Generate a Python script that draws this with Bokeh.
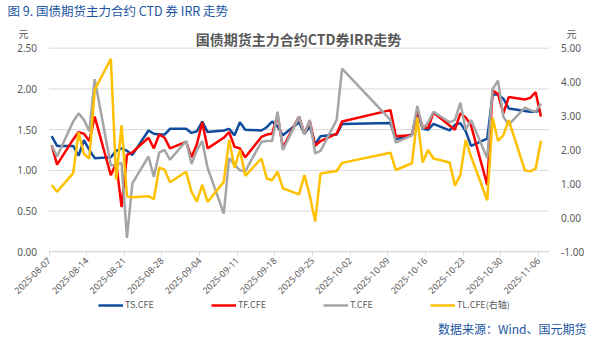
import math
import pandas as pd
from bokeh.plotting import figure
from bokeh.models import (Range1d, LinearAxis, FixedTicker, PrintfTickFormatter,
                          DatetimeTickFormatter, Label, Legend, LegendItem, ColumnDataSource)
from bokeh.embed import file_html
from bokeh.resources import INLINE

# ---------------- data ----------------
dates = ["2025-08-07", "2025-08-08", "2025-08-11", "2025-08-12", "2025-08-13", "2025-08-14", "2025-08-15",
         "2025-08-18", "2025-08-19", "2025-08-20", "2025-08-21", "2025-08-22",
         "2025-08-25", "2025-08-26", "2025-08-27", "2025-08-28", "2025-08-29",
         "2025-09-01", "2025-09-02", "2025-09-03", "2025-09-04", "2025-09-05",
         "2025-09-08", "2025-09-09", "2025-09-10", "2025-09-11", "2025-09-12",
         "2025-09-15", "2025-09-16", "2025-09-17", "2025-09-18", "2025-09-19",
         "2025-09-22", "2025-09-23", "2025-09-24", "2025-09-25", "2025-09-26",
         "2025-09-29", "2025-09-30", "2025-10-09", "2025-10-10",
         "2025-10-13", "2025-10-14", "2025-10-15", "2025-10-16", "2025-10-17",
         "2025-10-20", "2025-10-21", "2025-10-22", "2025-10-23", "2025-10-24",
         "2025-10-27", "2025-10-28", "2025-10-29", "2025-10-30", "2025-10-31",
         "2025-11-03", "2025-11-04", "2025-11-05", "2025-11-06"]

ts_cfe = [1.42, 1.30, 1.30, 1.18, 1.37, 1.25, 1.15,
          1.16, 1.24, 1.27, 1.24, 1.19,
          1.49, 1.45, 1.44, 1.44, 1.51,
          1.51, 1.46, 1.48, 1.60, 1.47,
          1.49, 1.51, 1.43, 1.59, 1.50,
          1.49, 1.53, 1.60, 1.54, 1.43,
          1.59, 1.45, 1.54, 1.32, 1.42,
          1.44, 1.57, 1.58, 1.38,
          1.44, 1.72, 1.51, 1.50, 1.57,
          1.49, 1.56, 1.58, 1.48, 1.30,
          1.39, 1.93, 1.93, 1.88, 1.76,
          1.73, 1.72, 1.72, 1.74]

tf_cfe = [1.31, 1.07, 1.38, 1.47, 1.45, 1.36, 1.66,
          0.94, 1.09, 0.55, 1.19, 1.22,
          1.40, 1.27, 1.44, 1.40, 1.27,
          1.35, 1.16, 1.32, 1.59, 1.27,
          1.40, 1.47, 1.29, 1.27, 1.16,
          1.41, 1.44, 1.45, 1.68, 1.28,
          1.66, 1.45, 1.61, 1.30, 1.36,
          1.45, 1.60, 1.74, 1.42,
          1.43, 1.74, 1.53, 1.52, 1.71,
          1.55, 1.50, 1.70, 1.65, 1.55,
          0.82, 1.98, 1.94, 1.70, 1.90,
          1.87, 1.89, 1.96, 1.66]

t_cfe = [1.31, 1.17, 1.60, 1.70, 1.62, 1.48, 2.12,
         1.06, 1.07, 1.09, 0.17, 0.84,
         1.17, 0.92, 1.22, 1.25, 1.13,
         1.36, 1.08, 1.25, 1.36, 1.03,
         0.47, 1.15, 1.07, 1.00, 0.99,
         1.35, 1.36, 1.36, 1.72, 1.25,
         1.66, 1.44, 1.62, 1.21, 1.24,
         1.62, 2.25, 1.62, 1.34,
         1.43, 1.79, 1.51, 1.59, 1.72,
         1.59, 1.62, 1.83, 1.50, 1.62,
         1.15, 2.00, 2.10, 1.66, 1.56,
         1.77, 1.74, 1.72, 1.82]

tl_cfe = [0.97, 0.77, 1.32, 2.52, 1.88, 1.75, 3.77,
          4.69, 1.13, 2.73, 0.64, 0.61,
          0.64, 0.55, 1.48, 1.42, 1.05,
          1.36, 0.77, 0.48, 0.97, 0.47,
          1.06, 2.30, 1.47, 2.00, 1.24,
          1.75, 1.16, 1.11, 1.36, 0.87,
          0.69, 1.26, 0.66, -0.11, 1.31,
          1.38, 1.62, 1.92, 1.41,
          1.61, 2.95, 1.63, 2.00, 1.75,
          1.63, 0.95, 1.26, 2.30, 1.80,
          0.52, 2.95, 2.27, 2.44, 2.88,
          1.40, 1.37, 1.45, 2.27]

series_names = ["TS.CFE", "TF.CFE", "T.CFE", "TL.CFE(右轴)"]
left_ticks = [0.0, 0.5, 1.0, 1.5, 2.0, 2.5]
right_ticks = [-1.0, 0.0, 1.0, 2.0, 3.0, 4.0, 5.0]
tick_dates = ["2025-08-07", "2025-08-14", "2025-08-21", "2025-08-28", "2025-09-04", "2025-09-11",
              "2025-09-18", "2025-09-25", "2025-10-02", "2025-10-09", "2025-10-16", "2025-10-23",
              "2025-10-30", "2025-11-06"]
axis_start, axis_end = "2025-08-07", "2025-11-08"
unit_label = "元"
header_text = "图 9. 国债期货主力合约 CTD 券 IRR 走势"
chart_title = "国债期货主力合约CTD券IRR走势"
source_text = "数据来源：Wind、国元期货"

# ---------------- layout geometry (pixels) ----------------
W, H = 593, 338
GRAY = "#595959"
BLUE_TXT = "#2155A3"
CJK = "Noto Sans CJK SC"

PX_LEFT = 48.5          # x pixel of axis start
DAY_PX = 5.377          # pixels per day
PY_ZERO, PY_TOP = 251.3, 47.7   # y pixel of 0.00 / 2.50 (left) and -1.00 / 5.00 (right)

t0 = pd.Timestamp(axis_start)
t1 = pd.Timestamp(axis_end)
x_lo = t0 - pd.Timedelta(days=PX_LEFT / DAY_PX)
x_hi = t0 + pd.Timedelta(days=(W - PX_LEFT) / DAY_PX)

sL = (PY_ZERO - PY_TOP) / 2.5
sR = (PY_ZERO - PY_TOP) / 6.0
yl_lo, yl_hi = -(H - PY_ZERO) / sL, PY_ZERO / sL
yr_lo, yr_hi = -1 - (H - PY_ZERO) / sR, -1 + PY_ZERO / sR


def ms(t):
    return t.value / 1e6


def dx(px):  # canvas pixel -> data x (ms)
    return ms(x_lo) + px / W * (ms(x_hi) - ms(x_lo))


def dy(py):  # canvas pixel -> left data y
    return yl_hi - py / H * (yl_hi - yl_lo)


x = pd.to_datetime(dates) + pd.Timedelta(hours=12)
src = ColumnDataSource(dict(x=x, ts=ts_cfe, tf=tf_cfe, t=t_cfe, tl=tl_cfe))

p = figure(width=W, height=H, x_axis_type="datetime", output_backend="svg", toolbar_location=None,
           x_range=Range1d(x_lo, x_hi), y_range=Range1d(yl_lo, yl_hi),
           min_border=0, min_border_left=0, min_border_right=0,
           min_border_top=0, min_border_bottom=0)
p.outline_line_color = None
p.background_fill_color = "white"
p.border_fill_color = "white"
p.extra_y_ranges = {"right": Range1d(yr_lo, yr_hi)}

# grid lines (horizontal, only across the plot area)
p.xgrid.grid_line_color = None
p.ygrid.grid_line_color = None
p.segment(x0=[t0] * len(left_ticks), x1=[t1] * len(left_ticks), y0=left_ticks, y1=left_ticks,
          line_color="#D9D9D9", line_width=1)

# left axis
ya = p.yaxis[0]
ya.ticker = FixedTicker(ticks=left_ticks)
ya.formatter = PrintfTickFormatter(format="%.2f")
ya.fixed_location = ms(t0)
ya.bounds = (0, 2.5)
# right axis
raxis = LinearAxis(y_range_name="right", ticker=FixedTicker(ticks=right_ticks),
                   formatter=PrintfTickFormatter(format="%.2f"))
raxis.fixed_location = ms(t1)
raxis.bounds = (-1, 5)
p.add_layout(raxis, "right")
for ax in [ya, raxis]:
    ax.axis_line_color = None
    ax.major_tick_line_color = None
    ax.minor_tick_line_color = None
    ax.major_label_text_color = GRAY
    ax.major_label_text_font = "Noto Sans"
    ax.major_label_text_font_size = "10px"
    ax.major_label_standoff = 6

# x axis
tick_ms = [ms(pd.Timestamp(d)) for d in tick_dates]
xa = p.xaxis[0]
xa.ticker = FixedTicker(ticks=tick_ms)
fmt = "%Y-%m-%d"
xa.formatter = DatetimeTickFormatter(days=fmt, months=fmt, years=fmt, hours=fmt, milliseconds=fmt,
                                     seconds=fmt, minsec=fmt, minutes=fmt, hourmin=fmt)
xa.fixed_location = 0
xa.bounds = (ms(t0), ms(t1))
xa.major_label_orientation = math.pi / 4
xa.axis_line_color = "#D9D9D9"
xa.major_tick_line_color = "#D9D9D9"
xa.major_tick_in = 0
xa.major_tick_out = 4
xa.minor_tick_line_color = None
xa.major_label_text_color = GRAY
xa.major_label_text_font = "Noto Sans"
xa.major_label_text_font_size = "9px"
xa.major_label_standoff = 3

# lines
r_ts = p.line("x", "ts", source=src, line_color="#0F4C9E", line_width=2.5)
r_tf = p.line("x", "tf", source=src, line_color="#FF0000", line_width=2.5)
r_t = p.line("x", "t", source=src, line_color="#A5A5A5", line_width=2.5)
r_tl = p.line("x", "tl", source=src, line_color="#FFC000", line_width=2.5, y_range_name="right")

legend = Legend(items=[LegendItem(label=series_names[0], renderers=[r_ts]),
                       LegendItem(label=series_names[1], renderers=[r_tf]),
                       LegendItem(label=series_names[2], renderers=[r_t]),
                       LegendItem(label=series_names[3], renderers=[r_tl])],
                orientation="horizontal", location=(98, 27),
                glyph_width=25, glyph_height=10, label_standoff=2, spacing=57,
                padding=0, margin=0, border_line_color=None, background_fill_alpha=0,
                label_text_font_size="9px", label_text_color=GRAY, label_text_font=CJK,
                label_height=12)
p.add_layout(legend, "center")


def lab(text, px, py, size, color, align="left", bold=False):
    p.add_layout(Label(x=dx(px), y=dy(py), text=text, text_font=CJK, text_font_size=size,
                       text_color=color, text_align=align, text_baseline="middle",
                       text_font_style="bold" if bold else "normal"))


lab(header_text, 7, 10, "12.5px", BLUE_TXT)
lab(chart_title, 298, 38, "14px", GRAY, align="center", bold=True)
lab(unit_label, 18, 33, "10px", GRAY)
lab(unit_label, 566, 33, "10px", GRAY)
lab(source_text, 586, 328, "12px", BLUE_TXT, align="right")

open("out.html", "w").write(file_html(p, INLINE))
